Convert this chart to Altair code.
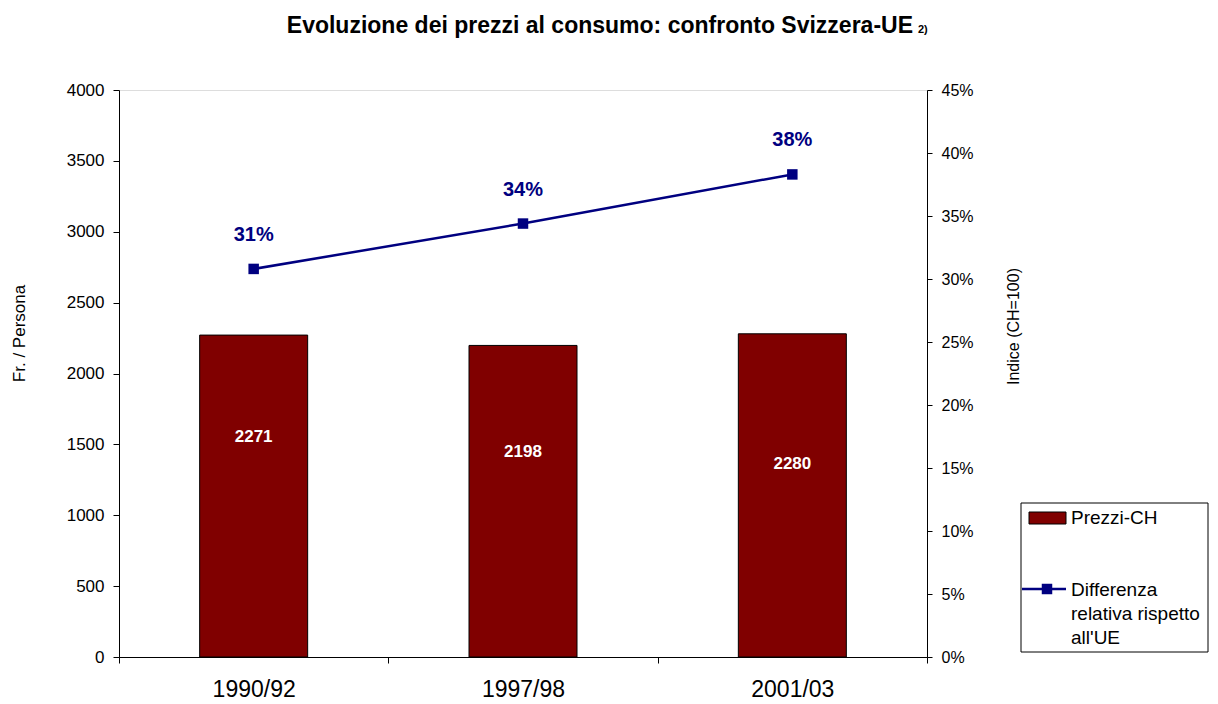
import altair as alt
import pandas as pd

categories = ["1990/92", "1997/98", "2001/03"]
prezzi = [2271, 2198, 2280]
differenza = [0.308, 0.344, 0.383]
bar_label_pos = [1550, 1445, 1360]

df = pd.DataFrame({
    "periodo": categories,
    "prezzi": prezzi,
    "diff": differenza,
    "lab_pos": bar_label_pos,
})

W, H = 808, 567
FONT = "Liberation Sans"

xenc = alt.X("periodo:N", sort=categories,
             scale=alt.Scale(paddingInner=0, paddingOuter=0),
             axis=alt.Axis(title=None, labelAngle=0, labelFontSize=23,
                           labelBaseline="alphabetic",
                           labelPadding=33, tickSize=6, tickBand="extent",
                           labelColor="black", domainColor="black", tickColor="black"))

left_axis = alt.Axis(title="Fr. / Persona", values=list(range(0, 4001, 500)), format="d",
                     labelFontSize=17, labelPadding=9, tickSize=6, grid=False,
                     titleFontSize=17, titleFontWeight="normal",
                     titleX=-100, titleY=243, titleAngle=-90, titleBaseline="middle",
                     labelColor="black", domainColor="black", tickColor="black")
left_scale = alt.Scale(domain=[0, 4000], nice=False)

bars = alt.Chart(df).mark_bar(color="#800000", stroke="black", strokeWidth=1, size=108).encode(
    x=xenc, y=alt.Y("prezzi:Q", scale=left_scale, axis=left_axis))

bar_text = alt.Chart(df).mark_text(color="white", fontWeight="bold", fontSize=17, font=FONT).encode(
    x=alt.X("periodo:N", sort=categories),
    y=alt.Y("lab_pos:Q", scale=left_scale, axis=left_axis),
    text=alt.Text("prezzi:Q", format="d"))

left = alt.layer(bars, bar_text)

right_axis = alt.Axis(title="Indice (CH=100)", orient="right", format=".0%",
                      values=[i * 0.05 for i in range(10)],
                      labelFontSize=16, labelPadding=9, tickSize=5, grid=False,
                      titleFontSize=16, titleFontWeight="normal",
                      titleAngle=-90, titleX=86, titleY=236, titleBaseline="middle",
                      labelColor="black", domainColor="black", tickColor="black")
right_scale = alt.Scale(domain=[0, 0.45], nice=False)

line = alt.Chart(df).mark_line(color="#000080", strokeWidth=2.5).encode(
    x=alt.X("periodo:N", sort=categories),
    y=alt.Y("diff:Q", scale=right_scale, axis=right_axis))
pts = alt.Chart(df).mark_point(shape="square", filled=True, color="#000080", size=110, opacity=1).encode(
    x=alt.X("periodo:N", sort=categories),
    y=alt.Y("diff:Q", scale=right_scale, axis=right_axis))
line_text = alt.Chart(df).mark_text(color="#000080", fontWeight="bold", fontSize=20, font=FONT, dy=-34).encode(
    x=alt.X("periodo:N", sort=categories),
    y=alt.Y("diff:Q", scale=right_scale, axis=right_axis),
    text=alt.Text("diff:Q", format=".0%"))

right = alt.layer(line, pts, line_text)

one = pd.DataFrame({"a": [0]})

title_main = alt.Chart(one).mark_text(text="Evoluzione dei prezzi al consumo: confronto Svizzera-UE",
                                      fontSize=23, fontWeight="bold", font=FONT,
                                      align="right", baseline="alphabetic").encode(
    x=alt.value(794), y=alt.value(-57))
title_note = alt.Chart(one).mark_text(text="2)", fontSize=11, fontWeight="bold", font=FONT,
                                      align="left", baseline="alphabetic").encode(
    x=alt.value(799), y=alt.value(-57))

# legend
leg_box = alt.Chart(one).mark_rect(fill="white", stroke="black", strokeWidth=1).encode(
    x=alt.value(902), x2=alt.value(1089), y=alt.value(413), y2=alt.value(562))
leg_bar = alt.Chart(one).mark_rect(fill="#800000", stroke="black", strokeWidth=1).encode(
    x=alt.value(910), x2=alt.value(947), y=alt.value(422), y2=alt.value(434))
leg_bar_t = alt.Chart(one).mark_text(text="Prezzi-CH", fontSize=19, font=FONT, align="left",
                                     baseline="middle").encode(
    x=alt.value(952), y=alt.value(428))
leg_line = alt.Chart(one).mark_rule(color="#000080", strokeWidth=2.5).encode(
    x=alt.value(903), x2=alt.value(947), y=alt.value(499))
leg_sq = alt.Chart(one).mark_point(shape="square", filled=True, color="#000080", size=110, opacity=1).encode(
    x=alt.value(928), y=alt.value(499))
leg_line_t = alt.Chart(one).mark_text(text=["Differenza", "relativa rispetto", "all'UE"],
                                      fontSize=19, font=FONT, align="left", baseline="middle",
                                      lineHeight=24).encode(
    x=alt.value(952), y=alt.value(500))

chart = alt.layer(left, right, title_main, title_note,
                  leg_box, leg_bar, leg_bar_t, leg_line, leg_sq, leg_line_t).resolve_scale(
    y="independent").properties(
    width=W, height=H,
    autosize=alt.AutoSizeParams(type="none"),
    padding={"left": 111, "top": 82, "right": 283, "bottom": 48},
).configure_view(stroke="#808080", strokeWidth=1).configure(font=FONT, background="white")

chart.save("out.html", embed_options={"renderer": "svg", "actions": False})
